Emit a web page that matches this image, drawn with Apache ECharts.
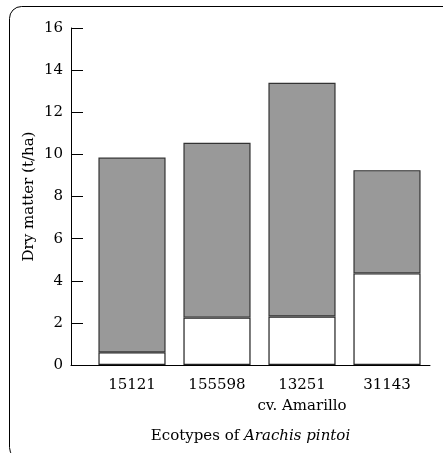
<!DOCTYPE html>
<html>
<head>
<meta charset="utf-8">
<script src="https://cdn.jsdelivr.net/npm/echarts@6/dist/echarts.min.js"></script>
<style>
html,body{margin:0;padding:0;background:#fff;}
#chart{width:443px;height:453px;}
</style>
</head>
<body>
<div id="chart"></div>
<script>
var categories = ['15121', '155598', '13251\ncv. Amarillo', '31143'];
var lowerPart = [0.6, 2.25, 2.3, 4.35];
var upperPart = [9.25, 8.3, 11.1, 4.9];
var yTicks = { min: 0, max: 16, interval: 2 };

var FONT = 'DejaVu Serif';
var chart = echarts.init(document.getElementById('chart'), null, { renderer: 'canvas' });
chart.setOption({
  animation: false,
  backgroundColor: '#fff',
  graphic: [{
    type: 'rect', left: 7, top: 4, silent: true,
    shape: { width: 460, height: 453, r: 12 },
    style: { fill: 'none', stroke: '#000', lineWidth: 1 }
  }],
  grid: [
    { left: 71, right: 13, top: 28, bottom: 88 },
    { left: 89.5, right: 13.5, top: 28, bottom: 88 }
  ],
  xAxis: [
    {
      gridIndex: 0, type: 'value', min: 0, max: 1,
      axisLine: { show: true, lineStyle: { color: '#000', width: 1 } },
      axisTick: { show: false }, axisLabel: { show: false }, splitLine: { show: false },
      name: 'Ecotypes of {i|Arachis pintoi}',
      nameLocation: 'middle', nameGap: 64,
      nameTextStyle: {
        fontFamily: FONT, fontSize: 15, color: '#000',
        rich: { i: { fontFamily: FONT, fontSize: 15, fontStyle: 'italic', color: '#000' } }
      }
    },
    {
      gridIndex: 1, type: 'category', data: categories,
      axisLine: { show: false }, axisTick: { show: false },
      axisLabel: { interval: 0, fontFamily: FONT, fontSize: 15, color: '#000', margin: 10, lineHeight: 21 }
    }
  ],
  yAxis: [
    {
      gridIndex: 0, type: 'value', min: yTicks.min, max: yTicks.max, interval: yTicks.interval,
      axisLine: { show: true, lineStyle: { color: '#000', width: 1 } },
      axisTick: { show: true, inside: true, length: 12, lineStyle: { color: '#000' } },
      axisLabel: { fontFamily: FONT, fontSize: 15, color: '#000', margin: 8 },
      splitLine: { show: false },
      name: 'Dry matter (t/ha)', nameLocation: 'middle', nameGap: 34, nameMoveOverlap: false,
      nameTextStyle: { fontFamily: FONT, fontSize: 15, color: '#000' }
    },
    {
      gridIndex: 1, type: 'value', min: yTicks.min, max: yTicks.max, interval: yTicks.interval,
      show: false, splitLine: { show: false }
    }
  ],
  series: [
    {
      type: 'bar', name: 'lower', stack: 'dm', xAxisIndex: 1, yAxisIndex: 1,
      data: lowerPart, barWidth: '79%',
      itemStyle: { color: '#ffffff', borderColor: '#222', borderWidth: 1.2 }
    },
    {
      type: 'bar', name: 'upper', stack: 'dm', xAxisIndex: 1, yAxisIndex: 1,
      data: upperPart, barWidth: '79%',
      itemStyle: { color: '#999999', borderColor: '#333', borderWidth: 1.2 }
    }
  ]
});
</script>
</body>
</html>
